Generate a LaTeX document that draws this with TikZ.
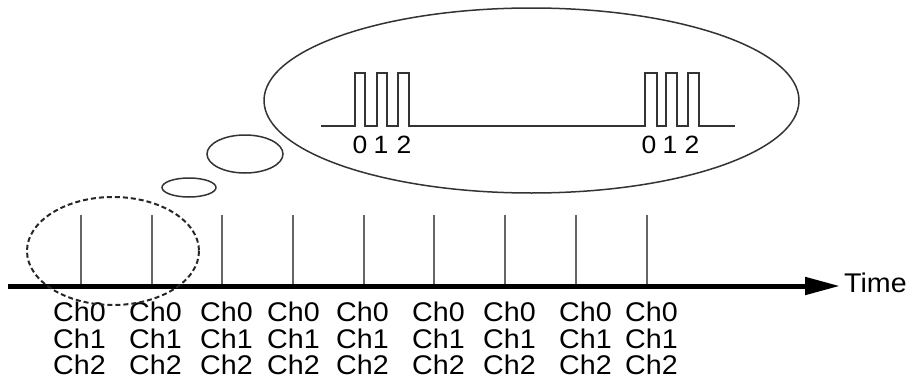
\documentclass[tikz,border=0pt]{standalone}
\usepackage{fontspec}
\setmainfont{Liberation Sans}[FakeStretch=1.06]
\usetikzlibrary{arrows.meta,positioning}

\begin{document}
\begin{tikzpicture}[x=1pt,y=-1pt,
  tickline/.style={draw=black!60,line width=1.4pt},
  bubble/.style={draw=black!80,line width=1.5pt},
  signal/.style={draw=black!80,line width=1.3pt},
  chlabel/.style={inner sep=0pt,align=left,font=\fontsize{27}{26.5}\selectfont},
  digit/.style={inner sep=0pt,anchor=base,font=\fontsize{25}{25}\selectfont}]
\useasboundingbox (0,0) rectangle (914,380);

% time axis
\node[inner sep=0pt,anchor=west,font=\fontsize{27}{27}\selectfont] (time) at (844,283) {Time};
\coordinate (start) at (8,286);
\draw[line width=5pt,-{Triangle[length=35pt,width=17pt]},shorten >=4pt] (start) -- (start -| time.west);

% sampling instants
\foreach \x in {81,152,222,293,364,434,505,576,647}
  \draw[tickline] (\x,215) -- (\x,284);
\foreach \x [count=\i] in {53,129,200,267,336,412,483,559,625}
  \node[chlabel,anchor=north west] (ch\i) at (\x,302) {Ch0\\Ch1\\Ch2};

% thought bubbles
\draw[line width=2pt,dash pattern=on 5pt off 3pt,black!85] (113,251) ellipse [x radius=86,y radius=54];
\draw[bubble] (189,187.5) ellipse [x radius=27,y radius=9.5];
\draw[bubble] (245,154) ellipse [x radius=38,y radius=19];
\draw[bubble] (531.5,100.5) ellipse [x radius=267.5,y radius=92.5];

% zoomed-in pulses
\draw[signal] (321,126)
  \foreach \a/\b in {355/365,377/387,398/409,645/657,666/677,688/699}
    { -- (\a,126) -- (\a,73) -- (\b,73) -- (\b,126) }
  -- (735,126);
\foreach \x/\t [count=\i] in {360/0,381/1,404/2,649/0,670/1,692/2}
  \node[digit] (d\i) at (\x,153) {\t};
\end{tikzpicture}
\end{document}
